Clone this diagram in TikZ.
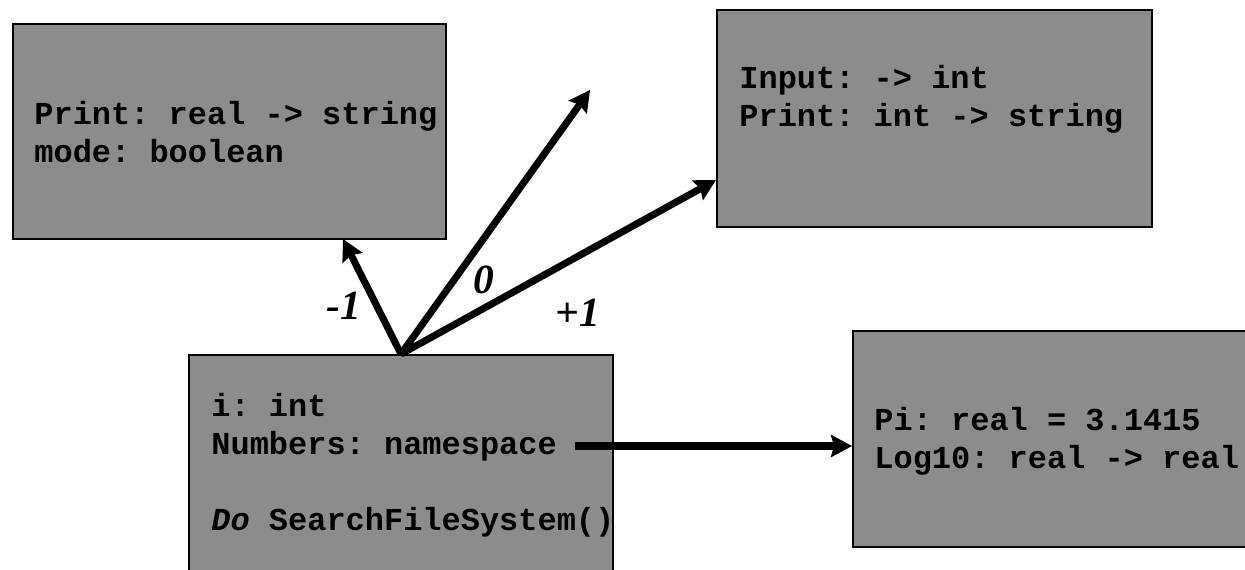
\documentclass[tikz,border=0pt]{standalone}
\usepackage{fontspec}
\setmainfont{Liberation Serif}
\setmonofont{Liberation Mono}
\usetikzlibrary{arrows.meta,calc}
\definecolor{grigio}{RGB}{140,140,140}
\tikzset{
  riquadro/.style={rectangle, draw=black, line width=1.1pt, fill=grigio, inner sep=0pt},
  codice/.style={font=\ttfamily\bfseries\fontsize{18.2pt}{21.6pt}\selectfont, align=left, anchor=west, inner sep=0pt},
  etichetta/.style={font=\bfseries\itshape\fontsize{23.6pt}{28pt}\selectfont, inner sep=0pt},
  freccia/.style={line width=4pt, -{Stealth[length=4.2mm, width=4.4mm, inset=0.6mm]}}
}
\begin{document}
\begin{tikzpicture}[x=0.02cm, y=-0.02cm]
        \useasboundingbox (0,0) rectangle (1245,569); % dimensioni della figura
        \clip (0,0) rectangle (1245,569);
        \node[riquadro, minimum width=8.66cm, minimum height=4.3cm] (boxA) at (229.5,131.5) {}; % riquadro in alto a sinistra
        \node[riquadro, minimum width=8.7cm, minimum height=4.34cm] (boxB) at (934.5,118.5) {}; % riquadro in alto a destra
        \node[riquadro, minimum width=8.48cm, minimum height=4.4cm] (boxC) at (401,465) {}; % riquadro centrale (tagliato in basso)
        \node[riquadro, minimum width=8.7cm, minimum height=4.32cm] (boxD) at (1070.5,439) {}; % riquadro in basso a destra (tagliato)
        \node[codice] (txtA) at ($(boxA.west)+(22,1)$) {Print: real -> string\\mode: boolean};
        \node[codice] (txtB) at ($(boxB.west)+(23,-19)$) {Input: -> int\\Print: int -> string};
        \node[codice] (txtC) at ($(boxC.west)+(23,0)$) {i: int\\Numbers: namespace\\[21.6pt]\textit{Do} SearchFileSystem()};
        \node[codice] (txtD) at ($(boxD.west)+(22,2)$) {Pi: real = 3.1415\\Log10: real -> real};
        \coordinate (origine) at (boxC.north); % punto di partenza comune
        \coordinate (puntaA) at (343,239);
        \coordinate (puntaZero) at (590,90); % freccia libera
        \coordinate (puntaB) at ($(boxB.west)+(0,61.5)$);
        \coordinate (spazio) at (575,446); % dopo "namespace"
        \draw[freccia] (origine) -- (puntaA);
        \draw[freccia] (origine) -- (puntaZero);
        \draw[freccia] (origine) -- (puntaB);
        \draw[freccia] (spazio) -- (spazio -| boxD.west);
        \node[etichetta] (meno) at (344,306) {-1};
        \node[etichetta] (zero) at (484,280) {0};
        \node[etichetta] (piu) at (578,313) {+1};
    \end{tikzpicture}
\end{document}
